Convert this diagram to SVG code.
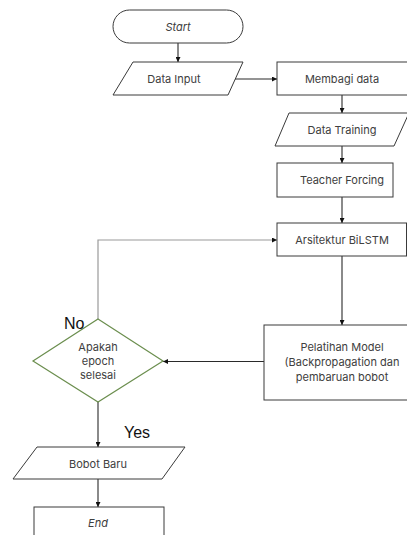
<svg xmlns="http://www.w3.org/2000/svg" width="407" height="535" viewBox="0 0 407 535">
<style>
.s{fill:#fff;stroke:#3a3a3a;stroke-width:1}
.d{fill:#fff;stroke:#6b8e4e;stroke-width:1.2}
.t{font-family:Inter,"Liberation Sans",sans-serif;font-size:11px;fill:#404040;text-anchor:middle;dominant-baseline:central}
.i{font-style:italic}
.c{fill:none;stroke:#2a2a2a;stroke-width:1.1}
.g{fill:none;stroke:#9a9a9a;stroke-width:1.2}
.l{font-family:"Liberation Sans",Arial,sans-serif;font-size:16px;fill:#111}
</style>
<defs>
<marker id="a" viewBox="0 0 10 10" refX="10" refY="5" markerWidth="5" markerHeight="5" orient="auto" markerUnits="userSpaceOnUse"><path d="M0,0L10,5L0,10z" fill="#111"/></marker>
</defs>
<g id="connectors">
<path class="c" d="M178,43V62" marker-end="url(#a)"/>
<path class="c" d="M235,79H277" marker-end="url(#a)"/>
<path class="c" d="M342,95V113" marker-end="url(#a)"/>
<path class="c" d="M342,146V163" marker-end="url(#a)"/>
<path class="c" d="M342,197V223" marker-end="url(#a)"/>
<path class="c" d="M342,256V325" marker-end="url(#a)"/>
<path class="c" d="M264,361.5H163" marker-end="url(#a)"/>
<path class="g" d="M98,319V240H277" marker-end="url(#a)"/>
<path class="c" d="M98,402V447" marker-end="url(#a)"/>
<path class="c" d="M98,479V507" marker-end="url(#a)"/>
</g>
<g id="start"><rect class="s" x="113" y="10" width="130" height="33" rx="16.5"/><text class="t i" x="178" y="27">Start</text></g>
<g id="data-input"><path class="s" d="M133,62H243L228,95H113Z"/><text class="t" x="174" y="79">Data Input</text></g>
<g id="membagi"><rect class="s" x="277" y="62" width="135" height="33"/><text class="t" x="342" y="79">Membagi data</text></g>
<g id="data-training"><path class="s" d="M289,113H409L394,146H275Z"/><text class="t" x="342" y="130">Data Training</text></g>
<g id="teacher"><rect class="s" x="277" y="163" width="116" height="34"/><text class="t" x="342" y="180">Teacher Forcing</text></g>
<g id="bilstm"><rect class="s" x="277" y="223" width="129.5" height="33"/><text class="t" x="342" y="240">Arsitektur BiLSTM</text></g>
<g id="pelatihan"><rect class="s" x="264" y="325" width="150" height="75"/><text class="t" x="342" y="347">Pelatihan Model</text><text class="t" x="342" y="362">(Backpropagation dan</text><text class="t" x="342" y="377">pembaruan bobot</text></g>
<g id="decision"><path class="d" d="M98,319L163,361L98,402L33,361Z"/><text class="t" x="98" y="347">Apakah</text><text class="t" x="98" y="361">epoch</text><text class="t" x="98" y="375">selesai</text></g>
<text class="l" x="64" y="329">No</text>
<text class="l" x="124" y="438">Yes</text>
<g id="bobot"><path class="s" d="M37,447H185L162,479H13Z"/><text class="t" x="98" y="464">Bobot Baru</text></g>
<g id="end"><rect class="s" x="34" y="507" width="130" height="40"/><text class="t i" x="98" y="523">End</text></g>
</svg>
